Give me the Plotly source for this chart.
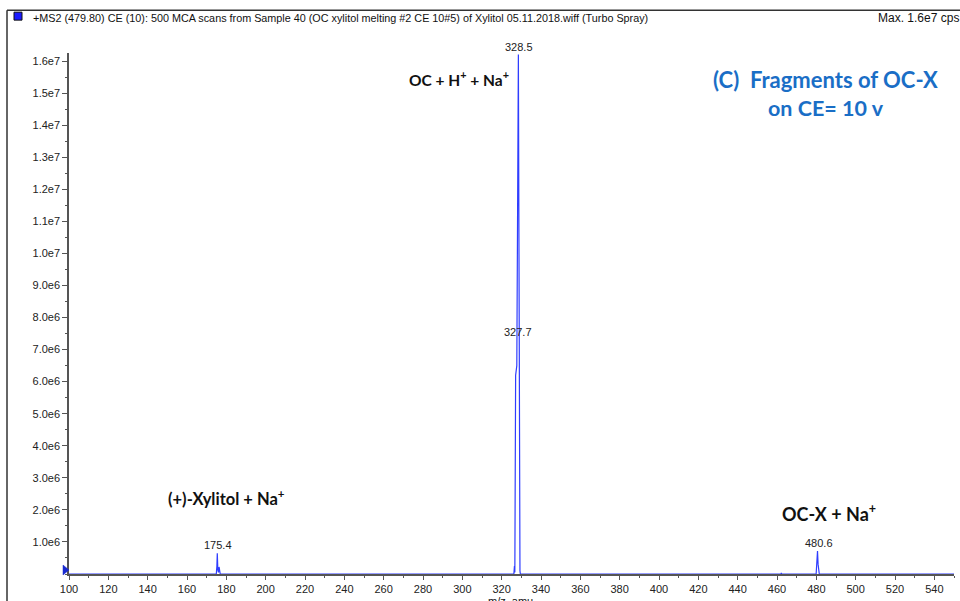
import plotly.graph_objects as go

# ---- data ----
mz = [100, 174.9, 175.2, 175.4, 175.7, 176.0, 176.3, 176.6, 176.9,
      326.2, 326.5, 326.7, 326.9, 327.1, 327.7, 328.5, 329.3, 329.5,
      462.0, 462.2, 462.4,
      479.9, 480.2, 480.6, 480.9, 481.2, 481.5, 550]
intensity = [0, 0, 0.25e6, 0.65e6, 0.12e6, 0.05e6, 0.22e6, 0.08e6, 0,
             0, 0.25e6, 0.05e6, 3.3e6, 6.2e6, 6.5e6, 16.2e6, 0.1e6, 0,
             0, 0.03e6, 0,
             0, 0.25e6, 0.72e6, 0.3e6, 0.15e6, 0, 0]

peak_labels = ["175.4", "327.7", "328.5", "480.6"]
peak_mz = [175.4, 327.7, 328.5, 480.6]
peak_int = [0.65e6, 6.5e6, 16.2e6, 0.72e6]
peak_yshift = [0, 26, 0, 0]

y_tickvals = [i * 1e6 for i in range(1, 17)]
y_ticktext = ["1.0e6", "2.0e6", "3.0e6", "4.0e6", "5.0e6", "6.0e6", "7.0e6", "8.0e6",
              "9.0e6", "1.0e7", "1.1e7", "1.2e7", "1.3e7", "1.4e7", "1.5e7", "1.6e7"]
x_tickvals = list(range(100, 541, 20))
x_ticktext = [str(v) for v in x_tickvals]

title_text = ("+MS2 (479.80) CE (10): 500 MCA scans from Sample 40 (OC xylitol melting #2 CE 10#5) "
              "of Xylitol 05.11.2018.wiff (Turbo Spray)")
max_text = "Max. 1.6e7 cps"

W, H = 960, 601
L, R, T, B = 69, 6, 53, 25
pw, ph = W - L - R, H - T - B


def px(x):
    return (x - L) / pw


def py(y):
    return (H - B - y) / ph


SANS = "Liberation Sans, Arial, sans-serif"
BOLD = "Lato, Open Sans, sans-serif"
BLUE_LINE = "#2f3dff"

fig = go.Figure()
fig.add_trace(go.Scatter(x=mz, y=intensity, mode="lines",
                         line=dict(color=BLUE_LINE, width=1.2),
                         hoverinfo="skip", showlegend=False))

annotations = []
for lab, xm, yi, ys in zip(peak_labels, peak_mz, peak_int, peak_yshift):
    annotations.append(dict(x=xm, y=yi, xref="x", yref="y", text=lab, showarrow=False,
                            xanchor="center", yanchor="bottom", yshift=ys, xshift=1,
                            font=dict(family=SANS, size=11, color="#222")))


def text_at(x, y, text, size, color="#111", family=BOLD, xanchor="center", yanchor="middle"):
    return dict(x=px(x), y=py(y), xref="paper", yref="paper", showarrow=False,
                xanchor=xanchor, yanchor=yanchor, text=text,
                font=dict(family=family, size=size, color=color))


annotations += [
    text_at(459, 79, "<b>OC + H<sup>+</sup> + Na<sup>+</sup></b>", 15.5),
    text_at(226, 500, "<b>(+)-Xylitol + Na<sup>+</sup></b>", 16.5),
    text_at(829, 515, "<b>OC-X + Na<sup>+</sup></b>", 18),
    text_at(825, 80, "<b>(C)  Fragments of OC-X</b>", 22, color="#1a6ec6"),
    text_at(826, 108, "<b>on CE= 10 v</b>", 21.5, color="#1a6ec6"),
    text_at(31, 18, title_text, 10.8, family=SANS, xanchor="left"),
    text_at(876, 18, max_text, 12, family=SANS, xanchor="left"),
    text_at(510, 595, "m/z, amu", 11, family=SANS, yanchor="top"),
]

shapes = [
    # outer frame
    dict(type="line", xref="paper", yref="paper", x0=px(7), x1=px(962), y0=py(10), y1=py(10),
         line=dict(color="#333", width=1.5)),
    dict(type="line", xref="paper", yref="paper", x0=px(7), x1=px(7), y0=py(10), y1=py(603),
         line=dict(color="#333", width=1.5)),
    # blue square legend marker
    dict(type="rect", xref="paper", yref="paper", x0=px(14), x1=px(22), y0=py(12), y1=py(20),
         fillcolor="#1a1aff", line=dict(color="#111", width=1)),
    # blue triangle at axis origin
    dict(type="path", xref="paper", yref="paper",
         path=f"M {px(63)} {py(567)} L {px(69)} {py(572)} L {px(63)} {py(577)} Z",
         fillcolor="#1a2ad0", line=dict(color="#1a2ad0", width=0.5)),
]

fig.update_layout(
    width=W, height=H,
    margin=dict(l=L, r=R, t=T, b=B, pad=0),
    paper_bgcolor="white", plot_bgcolor="white",
    showlegend=False,
    annotations=annotations,
    shapes=shapes,
    xaxis=dict(range=[100, 550], tickmode="array", tickvals=x_tickvals, ticktext=x_ticktext,
               showgrid=False, zeroline=False, showline=True, linecolor="#555", linewidth=1.5,
               ticks="outside", ticklen=4, tickcolor="#555", tickwidth=1,
               tickfont=dict(family=SANS, size=11, color="#222"),
               minor=dict(dtick=10, tick0=100, ticks="outside", ticklen=2, tickcolor="#555"),
               fixedrange=True),
    yaxis=dict(range=[0, 16.25e6], tickmode="array", tickvals=y_tickvals, ticktext=y_ticktext,
               showgrid=False, zeroline=False, showline=True, linecolor="#555", linewidth=1.5,
               ticks="outside", ticklen=5, tickcolor="#555", tickwidth=1,
               tickfont=dict(family=SANS, size=11, color="#222"),
               minor=dict(dtick=5e5, tick0=0, ticks="outside", ticklen=2, tickcolor="#555"),
               fixedrange=True),
)

fig.write_html("out.html")
